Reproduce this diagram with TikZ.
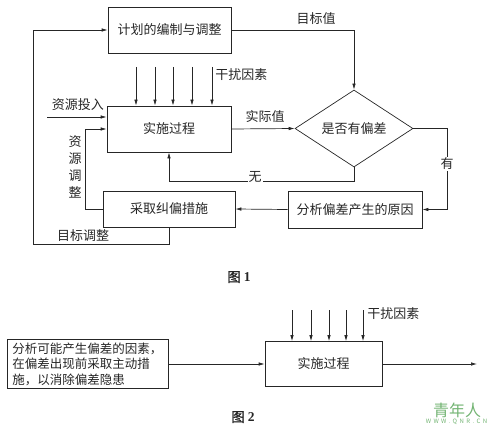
\documentclass[tikz,border=0pt]{standalone}
\usepackage{fontspec}
\setmainfont{Liberation Serif}
\newfontfamily\cjk{Noto Sans CJK SC}
\newfontfamily\cjkcap[FakeBold=1.2]{Noto Sans CJK SC}
\usetikzlibrary{shapes.geometric,arrows.meta}
\definecolor{wmgreen}{RGB}{115,180,115}
\begin{document}
\begin{tikzpicture}[x=1pt, y=-1pt, line width=0.7pt, color=black!85,
  every node/.style={font=\cjk\fontsize{13}{15.5}\selectfont},
  box/.style={draw,rectangle,inner sep=2pt},
  chkbox/.style={draw,diamond,minimum width=118pt,minimum height=69pt,inner sep=0pt},
  arr/.style={-{Latex[length=6pt,width=3.5pt]}},
  lbl/.style={fill=white,inner sep=1pt},
  figcap/.style={font=\cjkcap\fontsize{13.5}{15}\selectfont}]
\useasboundingbox (0,0) rectangle (488,428);
% Figure 1
\node[box,minimum width=123pt,minimum height=46pt] (plan) at (169.5,30) {计划的编制与调整};
\node[box,minimum width=124pt,minimum height=46pt] (impl) at (169,129) {实施过程};
\node[chkbox] (chk) at (354,128.5) {是否有偏差};
\node[box,minimum width=134pt,minimum height=37pt] (why) at (355,209.5) {分析偏差产生的原因};
\node[box,minimum width=132pt,minimum height=36pt] (fix) at (169,209) {采取纠偏措施};
\draw[arr] (plan.east) -| (chk.north);
\node (tgtl) at (316,19) {目标值};
\foreach \x [count=\i] in {136,155,173,192,212} {
  \coordinate (d\i) at (\x,67);
  \draw[arr] (d\i) -- (d\i |- impl.north);}
\node[anchor=west,inner sep=1pt] (distl) at (214,75) {干扰因素};
\coordinate (res) at (47,117);
\draw[arr] (res) -- (res -| impl.west);
\node (resl) at (78,105) {资源投入};
\draw[arr] (fix.west) -- ++(-17,0) |- (impl.west);
\node[align=center,font=\cjk\fontsize{13}{17}\selectfont] (adjl) at (75,167) {资\\源\\调\\整};
\draw[arr] (impl.east) -- (chk.west);
\node (actl) at (265,117) {实际值};
\draw[arr] (chk.south) -- ++(0,13.5) -| (impl.south);
\node[lbl] (nol) at (255,176.5) {无};
\draw[arr] (chk.east) -- ++(34,0) |- (why.east);
\node[lbl] (yesl) at (447,164) {有};
\draw[arr] (why.west) -- (fix.east);
\coordinate (loop) at (33,244);
\draw[arr] (fix.south) |- (loop) |- (plan.west);
\node (goall) at (83,235.5) {目标调整};
\node[figcap] (cap1) at (239,277) {图\ {\rmfamily\bfseries 1}};
% Figure 2
\node[box,minimum width=161pt,minimum height=49pt,align=left,font=\cjk\fontsize{12.5}{15.5}\selectfont] (pre) at (87.5,364) {分析可能产生偏差的因素，\\在偏差出现前采取主动措\\施，以消除偏差隐患};
\node[box,minimum width=117pt,minimum height=45pt] (impl2) at (323.5,364) {实施过程};
\draw[arr] (pre.east) -- (impl2.west);
\foreach \x [count=\i] in {292,311,329,346,363} {
  \coordinate (e\i) at (\x,310);
  \draw[arr] (e\i) -- (e\i |- impl2.north);}
\node[anchor=west,inner sep=1pt] (dist2l) at (366,314) {干扰因素};
\coordinate (out) at (477,364);
\draw[arr] (impl2.east) -- (out);
\node[figcap] (cap2) at (243,417) {图\ {\rmfamily\bfseries 2}};
% watermark
\node[text=wmgreen,font=\cjk\fontsize{16}{16}\selectfont] (wm) at (457,410) {青年人};
\node[text=wmgreen,font=\cjk\fontsize{6}{6}\selectfont\addfontfeatures{LetterSpace=40}] (wmurl) at (456.5,422) {WWW.QNR.CN};
\end{tikzpicture}
\end{document}
